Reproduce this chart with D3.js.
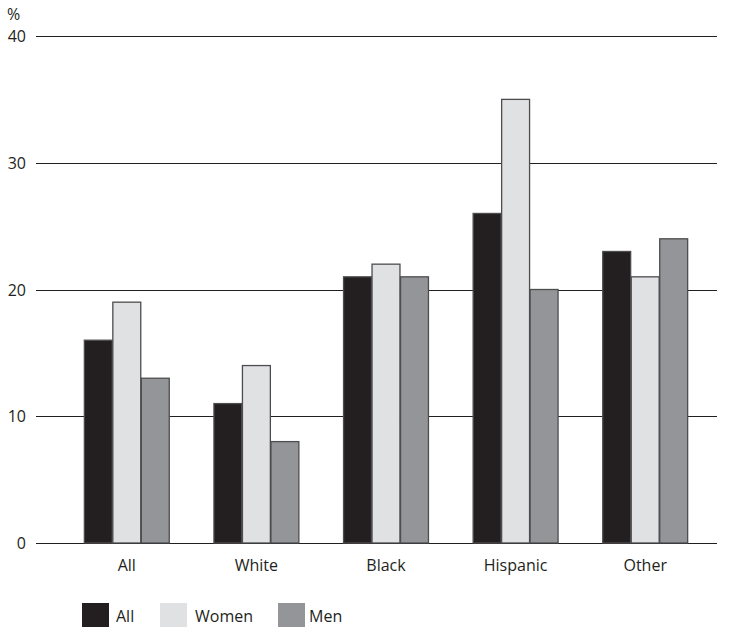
<!DOCTYPE html>
<html>
<head>
<meta charset="utf-8">
<script src="https://d3js.org/d3.v7.min.js"></script>
<style>
body { margin: 0; background: #fff; }
text { font-family: "Open Sans", "Noto Sans", sans-serif; fill: #231f20; }
</style>
</head>
<body>
<svg id="chart" width="734" height="628"></svg>
<script>
const categories = ["All", "White", "Black", "Hispanic", "Other"];
const seriesNames = ["All", "Women", "Men"];
const allValues = [16, 11, 21, 26, 23];
const womenValues = [19, 14, 22, 35, 21];
const menValues = [13, 8, 21, 20, 24];
const yTicks = [0, 10, 20, 30, 40];
const colors = ["#231f20", "#e0e1e3", "#939598"];

const svg = d3.select("#chart");
const seriesValues = [allValues, womenValues, menValues];

let rows = categories.map((c, i) => ({
  cat: c,
  vals: seriesNames.map((s, j) => ({ key: s, idx: j, value: seriesValues[j][i] }))
}));

const x = d3.scaleBand()
            .domain(categories)
            .range([62, 710])
            .paddingInner(0.336)
            .paddingOuter(0.168);
const xSub = d3.scaleBand()
               .domain(seriesNames)
               .range([0, x.bandwidth()])
               .padding(0.02);
const y = d3.scaleLinear().domain([0, 40]).range([543, 36]);

// gridlines
svg.append("g")
   .selectAll("line")
   .data(yTicks)
   .join("line")
   .attr("x1", 36)
   .attr("x2", 717)
   .attr("y1", d => Math.round(y(d)) + 0.5)
   .attr("y2", d => Math.round(y(d)) + 0.5)
   .attr("stroke", "#231f20")
   .attr("stroke-width", 1.2);

svg.append("g")
   .selectAll("text")
   .data(yTicks)
   .join("text")
   .attr("x", 26)
   .attr("y", d => y(d) + 6)
   .attr("text-anchor", "end")
   .attr("font-size", 16)
   .text(d => d);

svg.append("text")
   .attr("x", 7)
   .attr("y", 20)
   .attr("font-size", 16)
   .text("%");

// bars
let groups = svg.append("g")
                .selectAll("g")
                .data(rows)
                .join("g")
                .attr("transform", d => "translate(" + x(d.cat) + ",0)");

groups.selectAll("rect")
      .data(d => d.vals)
      .join("rect")
      .attr("x", d => xSub(d.key))
      .attr("width", xSub.bandwidth())
      .attr("y", d => y(d.value))
      .attr("height", d => y(0) - y(d.value))
      .attr("fill", d => colors[d.idx])
      .attr("stroke", "#4d4d4f")
      .attr("stroke-width", 1.3);

svg.append("g")
   .selectAll("text")
   .data(categories)
   .join("text")
   .attr("x", d => x(d) + x.bandwidth() / 2)
   .attr("y", 571)
   .attr("text-anchor", "middle")
   .attr("font-size", 16)
   .text(d => d);

// legend
const legendX = [82, 160, 278];
const legendTextX = [116, 195, 309];
let legend = svg.append("g")
                .selectAll("g")
                .data(seriesNames)
                .join("g");
legend.append("rect")
      .attr("x", (d, i) => legendX[i])
      .attr("y", 603)
      .attr("width", 27)
      .attr("height", 24)
      .attr("fill", (d, i) => colors[i]);
legend.append("text")
      .attr("x", (d, i) => legendTextX[i])
      .attr("y", 622)
      .attr("font-size", 16)
      .text(d => d);
</script>
</body>
</html>
